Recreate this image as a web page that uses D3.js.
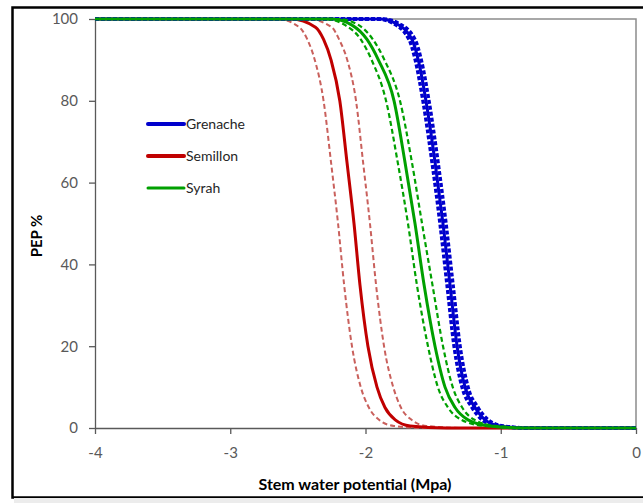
<!DOCTYPE html>
<html>
<head>
<meta charset="utf-8">
<script src="https://cdn.jsdelivr.net/npm/d3@7"></script>
<style>
  body { margin: 0; background: #fff; }
  text { font-family: Lato, "Open Sans", sans-serif; }
</style>
</head>
<body>
<script>
// x = stem water potential (MPa), y = PEP %
var semillonMean  = [[-4,100],[-2.55,100],[-2.37,98],[-2.31,95],[-2.255,90],[-2.19,80],[-2.137,65],[-2.085,50],[-2.041,35],[-1.982,20],[-1.915,10],[-1.856,5],[-1.78,2],[-1.67,0.5],[-1.4,0],[0,0]];
var semillonLow   = [[-4,100],[-2.65,100],[-2.49,98],[-2.43,95],[-2.375,90],[-2.31,80],[-2.255,65],[-2.203,50],[-2.158,35],[-2.10,20],[-2.035,10],[-1.975,5],[-1.90,2],[-1.79,0.5],[-1.55,0],[0,0]];
var semillonHigh  = [[-4,100],[-2.43,100],[-2.25,98],[-2.195,95],[-2.135,90],[-2.07,80],[-2.018,65],[-1.967,50],[-1.922,35],[-1.863,20],[-1.795,10],[-1.738,5],[-1.66,2],[-1.55,0.5],[-1.25,0],[0,0]];

var syrahMean     = [[-4,100],[-2.25,100],[-2.10,98.5],[-1.989,95],[-1.905,90],[-1.789,80],[-1.708,65],[-1.634,50],[-1.567,35],[-1.486,20],[-1.412,10],[-1.338,5],[-1.242,2],[-1.08,0.5],[-0.8,0],[0,0]];
var syrahLow      = [[-4,100],[-2.30,100],[-2.15,98.5],[-2.035,95],[-1.955,90],[-1.848,80],[-1.762,65],[-1.686,50],[-1.62,35],[-1.538,20],[-1.465,10],[-1.39,5],[-1.29,2],[-1.12,0.5],[-0.85,0],[0,0]];
var syrahHigh     = [[-4,100],[-2.20,100],[-2.05,98.5],[-1.945,95],[-1.86,90],[-1.745,80],[-1.657,65],[-1.582,50],[-1.505,35],[-1.427,20],[-1.355,10],[-1.285,5],[-1.195,2],[-1.04,0.5],[-0.75,0],[0,0]];

var grenacheMean  = [[-4,100],[-1.89,100],[-1.78,99],[-1.656,95],[-1.61,90],[-1.553,80],[-1.486,65],[-1.427,50],[-1.375,35],[-1.323,20],[-1.264,10],[-1.19,5],[-1.116,2],[-1.005,0.5],[-0.8,0],[0,0]];
var grenacheLow   = [[-4,100],[-1.91,100],[-1.80,99],[-1.678,95],[-1.632,90],[-1.575,80],[-1.508,65],[-1.449,50],[-1.397,35],[-1.345,20],[-1.286,10],[-1.212,5],[-1.138,2],[-1.027,0.5],[-0.82,0],[0,0]];
var grenacheHigh  = [[-4,100],[-1.87,100],[-1.76,99],[-1.634,95],[-1.588,90],[-1.531,80],[-1.464,65],[-1.405,50],[-1.353,35],[-1.301,20],[-1.242,10],[-1.168,5],[-1.094,2],[-0.983,0.5],[-0.78,0],[0,0]];

var xTicks = [-4,-3,-2,-1,0];
var yTicks = [0,20,40,60,80,100];
var legendNames = ['Grenache','Semillon','Syrah'];
var legendColors = ['#0000CC','#C00000','#00A000'];

var width = 643, height = 503;
var mLeft = 95, mRight = 636, mTop = 19, mBottom = 428;

var svg = d3.select('body').append('svg')
    .attr('width', width)
    .attr('height', height);

svg.append('rect')
    .attr('x', 0).attr('y', 0)
    .attr('width', width).attr('height', height)
    .attr('fill', '#fff');

// outer chart frame (cut by image edge on the right)
svg.append('rect')
    .attr('x', 12.5).attr('y', 7.5)
    .attr('width', 660).attr('height', 490)
    .attr('fill', 'none')
    .attr('stroke', '#000')
    .attr('stroke-width', 2.5);
svg.append('rect')
    .attr('x', 14).attr('y', 498)
    .attr('width', width).attr('height', 5)
    .attr('fill', '#ececec');

var xScale = d3.scaleLinear().domain([-4, 0]).range([mLeft, mRight]);
var yScale = d3.scaleLinear().domain([0, 100]).range([mBottom, mTop]);

// plot area border
svg.append('path')
    .attr('d', 'M' + mLeft + ',' + mTop + 'H' + mRight + 'V' + mBottom)
    .attr('fill', 'none')
    .attr('stroke', '#8c8c8c')
    .attr('stroke-width', 1.5);

var fmt = function(d){ return String(d); };
var xAxis = svg.append('g')
    .attr('transform', 'translate(0,' + mBottom + ')')
    .call(d3.axisBottom(xScale).tickValues(xTicks).tickFormat(fmt).tickSize(6).tickSizeOuter(0).tickPadding(13));
var yAxis = svg.append('g')
    .attr('transform', 'translate(' + mLeft + ',0)')
    .call(d3.axisLeft(yScale).tickValues(yTicks).tickFormat(fmt).tickSize(6).tickSizeOuter(0).tickPadding(11));

[xAxis, yAxis].forEach(function(ax){
  ax.select('.domain').attr('stroke', '#595959').attr('stroke-width', 1.3);
  ax.selectAll('.tick line').attr('stroke', '#595959').attr('stroke-width', 1.3);
  ax.selectAll('.tick text')
    .attr('fill', '#595959')
    .style('font-size', '15px')
    .style('font-family', 'Lato, "Open Sans", sans-serif');
});

var line = d3.line()
    .x(function(d){ return xScale(d[0]); })
    .y(function(d){ return yScale(d[1]); })
    .curve(d3.curveMonotoneX);

var series = [
  {data: semillonLow,  color: '#C9605C', w: 2,   dash: '5,3'},
  {data: semillonHigh, color: '#C9605C', w: 2,   dash: '5,3'},
  {data: semillonMean, color: '#C00000', w: 3,   dash: null},
  {data: grenacheLow,  color: '#0000CC', w: 3.5, dash: '4,2'},
  {data: grenacheHigh, color: '#0000CC', w: 3.5, dash: '4,2'},
  {data: grenacheMean, color: '#0000CC', w: 3,   dash: null},
  {data: syrahLow,     color: '#00A000', w: 2.2, dash: '5,3'},
  {data: syrahHigh,    color: '#00A000', w: 2.2, dash: '5,3'},
  {data: syrahMean,    color: '#00A000', w: 3,   dash: null}
];

svg.append('g')
    .selectAll('path')
    .data(series)
    .enter()
    .append('path')
    .attr('d', function(d){ return line(d.data); })
    .attr('fill', 'none')
    .attr('stroke', function(d){ return d.color; })
    .attr('stroke-width', function(d){ return d.w; })
    .attr('stroke-dasharray', function(d){ return d.dash; });

// legend
var legend = svg.append('g')
    .selectAll('g')
    .data(legendNames)
    .enter()
    .append('g')
    .attr('transform', function(d, i){ return 'translate(148,' + (124 + i * 32) + ')'; });
legend.append('line')
    .attr('x1', 0).attr('x2', 36)
    .attr('y1', 0).attr('y2', 0)
    .attr('stroke', function(d, i){ return legendColors[i]; })
    .attr('stroke-width', function(d, i){ return i === 2 ? 3 : 4; })
    .attr('stroke-linecap', 'round');
legend.append('text')
    .attr('x', 38)
    .attr('y', 5)
    .attr('fill', '#262626')
    .style('font-size', '14px')
    .text(function(d){ return d; });

// axis titles
svg.append('text')
    .attr('x', 355)
    .attr('y', 490)
    .attr('text-anchor', 'middle')
    .attr('fill', '#000')
    .style('font-size', '16px')
    .style('font-weight', 'bold')
    .text('Stem water potential (Mpa)');
svg.append('text')
    .attr('transform', 'translate(42,236) rotate(-90)')
    .attr('text-anchor', 'middle')
    .attr('fill', '#000')
    .style('font-size', '15px')
    .style('font-weight', 'bold')
    .text('PEP %');
</script>
</body>
</html>
